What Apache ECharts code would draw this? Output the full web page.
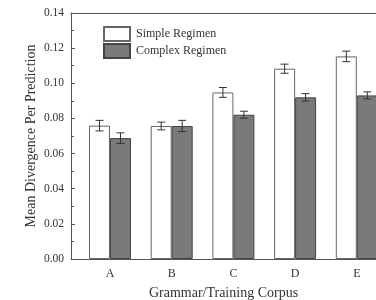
<!DOCTYPE html>
<html>

<head>
    <meta charset="utf-8" />
    <title>Mean Divergence</title>
    <script src="https://cdn.jsdelivr.net/npm/echarts@6/dist/echarts.min.js"></script>
    <style>
        body { margin: 0; background: #fff; }
        #main { width: 376px; height: 300px; }
    </style>
</head>

<body>
    <div id="main"></div>
    <script type="text/javascript">
        // 数据
        var categories = ['A', 'B', 'C', 'D', 'E'];
        var simpleValues = [0.0759, 0.0757, 0.0948, 0.1083, 0.1153];
        var simpleErrors = [0.0030, 0.0022, 0.0028, 0.0026, 0.0030];
        var complexValues = [0.0688, 0.0757, 0.0821, 0.0920, 0.0931];
        var complexErrors = [0.0030, 0.0032, 0.0020, 0.0021, 0.0020];
        var yTicks = [0, 0.02, 0.04, 0.06, 0.08, 0.10, 0.12, 0.14];

        var serif = 'Liberation Serif';
        var barW = 21;

        function pairs(vals) {
            return vals.map(function (v, i) { return [i + 1, v]; });
        }
        function triples(vals, errs) {
            return vals.map(function (v, i) { return [i + 1, v, errs[i]]; });
        }

        // 误差棒
        function errorBar(shift) {
            return function (params, api) {
                var x = api.value(0), y = api.value(1), e = api.value(2);
                var hi = api.coord([x, y + e]);
                var lo = api.coord([x, y - e]);
                var cx = hi[0] + shift;
                var cap = 4;
                var style = { stroke: '#333', lineWidth: 1 };
                return {
                    type: 'group',
                    children: [
                        { type: 'line', shape: { x1: cx, y1: hi[1], x2: cx, y2: lo[1] }, style: style },
                        { type: 'line', shape: { x1: cx - cap, y1: hi[1], x2: cx + cap, y2: hi[1] }, style: style },
                        { type: 'line', shape: { x1: cx - cap, y1: lo[1], x2: cx + cap, y2: lo[1] }, style: style }
                    ]
                };
            };
        }

        var myChart = echarts.init(document.getElementById('main'));

        var xMin = 0.368, xMax = 5.311;

        var option = {
            animation: false,
            textStyle: { fontFamily: serif },
            grid: { left: 71, top: 13, right: 0, bottom: 41, outerBoundsMode: 'none', containLabel: false },
            legend: {
                orient: 'vertical',
                left: 103,
                top: 26,
                padding: 0,
                icon: 'rect',
                itemWidth: 26,
                itemHeight: 14,
                itemGap: 1,
                textStyle: { fontFamily: serif, fontSize: 12, color: '#333', padding: [0, 0, 0, 1] },
                data: ['Simple Regimen', 'Complex Regimen']
            },
            xAxis: [{
                type: 'value',
                min: xMin,
                max: xMax,
                name: 'Grammar/Training Corpus',
                nameLocation: 'middle',
                nameGap: 27,
                nameMoveOverlap: false,
                nameTextStyle: { fontFamily: serif, fontSize: 14, color: '#333' },
                axisLine: { show: true, lineStyle: { color: '#555' } },
                axisTick: { show: false },
                splitLine: { show: false },
                axisLabel: {
                    customValues: [1, 2, 3, 4, 5],
                    formatter: function (v) { return categories[Math.round(v) - 1]; },
                    fontFamily: serif,
                    fontSize: 12,
                    color: '#333',
                    margin: 9
                }
            }, {
                type: 'value',
                position: 'top',
                min: xMin,
                max: xMax,
                axisLine: { show: true, lineStyle: { color: '#555' } },
                axisTick: { show: false },
                axisLabel: { show: false },
                splitLine: { show: false }
            }],
            yAxis: {
                type: 'value',
                min: 0,
                max: 0.14,
                interval: 0.02,
                name: 'Mean Divergence Per Prediction',
                nameLocation: 'middle',
                nameGap: 33,
                nameMoveOverlap: false,
                nameTextStyle: { fontFamily: serif, fontSize: 14, color: '#333' },
                axisLine: { show: true, lineStyle: { color: '#555' } },
                axisTick: { show: true, inside: true, length: 4, lineStyle: { color: '#555' } },
                minorTick: { show: true, splitNumber: 2, length: 3, lineStyle: { color: '#555' } },
                splitLine: { show: false },
                axisLabel: {
                    customValues: yTicks,
                    formatter: function (v) { return v.toFixed(2); },
                    fontFamily: serif,
                    fontSize: 11.5,
                    color: '#333',
                    margin: 7
                }
            },
            series: [{
                name: 'Simple Regimen',
                type: 'bar',
                barWidth: barW,
                barGap: '0%',
                itemStyle: { color: '#ffffff', borderColor: '#666', borderWidth: 1 },
                data: pairs(simpleValues)
            }, {
                name: 'Complex Regimen',
                type: 'bar',
                barWidth: barW,
                barGap: '0%',
                itemStyle: { color: '#7a7a7a', borderColor: '#444', borderWidth: 1 },
                data: pairs(complexValues)
            }, {
                type: 'custom',
                renderItem: errorBar(-barW / 2),
                encode: { x: 0, y: 1 },
                z: 5,
                data: triples(simpleValues, simpleErrors)
            }, {
                type: 'custom',
                renderItem: errorBar(barW / 2),
                encode: { x: 0, y: 1 },
                z: 5,
                data: triples(complexValues, complexErrors)
            }]
        };

        myChart.setOption(option);
    </script>
</body>

</html>
